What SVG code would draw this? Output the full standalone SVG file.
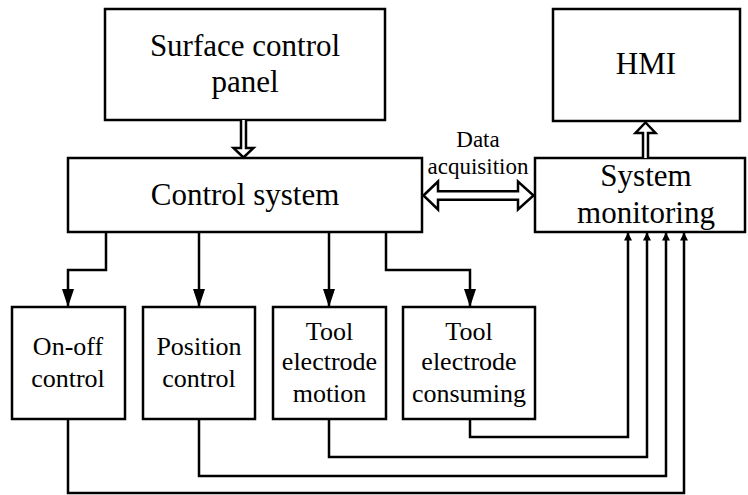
<svg xmlns="http://www.w3.org/2000/svg" width="748" height="495" viewBox="0 0 748 495">
  <style>
    .box { fill: #fff; stroke: #000; stroke-width: 2.5; }
    .big { font-family: "Liberation Serif", "Times New Roman", serif; font-size: 31px; text-anchor: middle; fill: #000; }
    .mid { font-family: "Liberation Serif", "Times New Roman", serif; font-size: 26px; text-anchor: middle; fill: #000; }
    .small { font-family: "Liberation Serif", "Times New Roman", serif; font-size: 23px; text-anchor: middle; fill: #000; }
    .wire { fill: none; stroke: #000; stroke-width: 2.5; }
    .hollow { fill: #fff; stroke: #000; stroke-width: 2.5; stroke-linejoin: miter; }
  </style>
  <defs>
    <marker id="headDown" markerUnits="userSpaceOnUse" markerWidth="12" markerHeight="18" viewBox="0 0 12 18" refX="6" refY="17" orient="auto-start-reverse">
      <path d="M0,0 L12,0 L6,18 Z" fill="#000" transform="rotate(0)"/>
    </marker>
    <marker id="arrowBig" markerUnits="userSpaceOnUse" markerWidth="18" markerHeight="12" viewBox="0 0 18 12" refX="17" refY="6" orient="auto">
      <path d="M0,0 L18,6 L0,12 Z" fill="#000"/>
    </marker>
    <marker id="arrowSmall" markerUnits="userSpaceOnUse" markerWidth="8" markerHeight="8" viewBox="0 0 8 8" refX="7.5" refY="4" orient="auto">
      <path d="M0,0 L8,4 L0,8 Z" fill="#000"/>
    </marker>
  </defs>

  <g id="surface-panel">
    <rect class="box" x="105" y="9" width="280" height="111"/>
    <text class="big" x="245" y="56">Surface control</text>
    <text class="big" x="245" y="92">panel</text>
  </g>

  <g id="control-system">
    <rect class="box" x="68" y="158" width="354" height="74"/>
    <text class="big" x="245" y="205">Control system</text>
  </g>

  <g id="hmi">
    <rect class="box" x="553" y="9" width="187" height="112"/>
    <text class="big" x="646" y="74">HMI</text>
  </g>

  <g id="system-monitoring">
    <rect class="box" x="535" y="158" width="210" height="74"/>
    <text class="big" x="646" y="186">System</text>
    <text class="big" x="646" y="223">monitoring</text>
  </g>

  <g id="on-off-control">
    <rect class="box" x="12" y="307" width="113" height="112"/>
    <text class="mid" x="68" y="355">On-off</text>
    <text class="mid" x="68" y="387">control</text>
  </g>

  <g id="position-control">
    <rect class="box" x="143" y="307" width="112" height="112"/>
    <text class="mid" x="199" y="355">Position</text>
    <text class="mid" x="199" y="387">control</text>
  </g>

  <g id="tool-electrode-motion">
    <rect class="box" x="273" y="307" width="113" height="112"/>
    <text class="mid" x="329.5" y="340">Tool</text>
    <text class="mid" x="329.5" y="370">electrode</text>
    <text class="mid" x="329.5" y="402">motion</text>
  </g>

  <g id="tool-electrode-consuming">
    <rect class="box" x="403" y="307" width="132" height="112"/>
    <text class="mid" x="469" y="340">Tool</text>
    <text class="mid" x="469" y="370">electrode</text>
    <text class="mid" x="469" y="402">consuming</text>
  </g>

  <g id="connectors">
    <!-- hollow arrow: panel to control system -->
    <path class="hollow" d="M241,120 V148 H233.5 L243.5,157.5 L253.5,148 H246 V120"/>
    <!-- hollow arrow: monitoring to HMI -->
    <path class="hollow" d="M643,158 V133 H635.5 L645.5,122.5 L655.5,133 H648 V158"/>
    <!-- double hollow arrow: data acquisition -->
    <path class="hollow" d="M423.5,195.5 L438,181.5 V191.3 H518 V181.5 L533.5,195.5 L518,209.5 V199.7 H438 V209.5 Z"/>
    <text class="small" x="478" y="147">Data</text>
    <text class="small" x="478" y="174">acquisition</text>

    <!-- command lines to the actuator blocks -->
    <path class="wire" d="M106,232 V270 H68 V306" marker-end="url(#arrowBig)"/>
    <path class="wire" d="M199,232 V306" marker-end="url(#arrowBig)"/>
    <path class="wire" d="M329,232 V306" marker-end="url(#arrowBig)"/>
    <path class="wire" d="M386,232 V270 H470 V306" marker-end="url(#arrowBig)"/>

    <!-- feedback lines into system monitoring -->
    <path class="wire" d="M470,419 V437 H628 V233" marker-end="url(#arrowSmall)"/>
    <path class="wire" d="M329,419 V457 H647 V233" marker-end="url(#arrowSmall)"/>
    <path class="wire" d="M199,419 V476 H666 V233" marker-end="url(#arrowSmall)"/>
    <path class="wire" d="M68,419 V493 H684 V233" marker-end="url(#arrowSmall)"/>
  </g>
</svg>
